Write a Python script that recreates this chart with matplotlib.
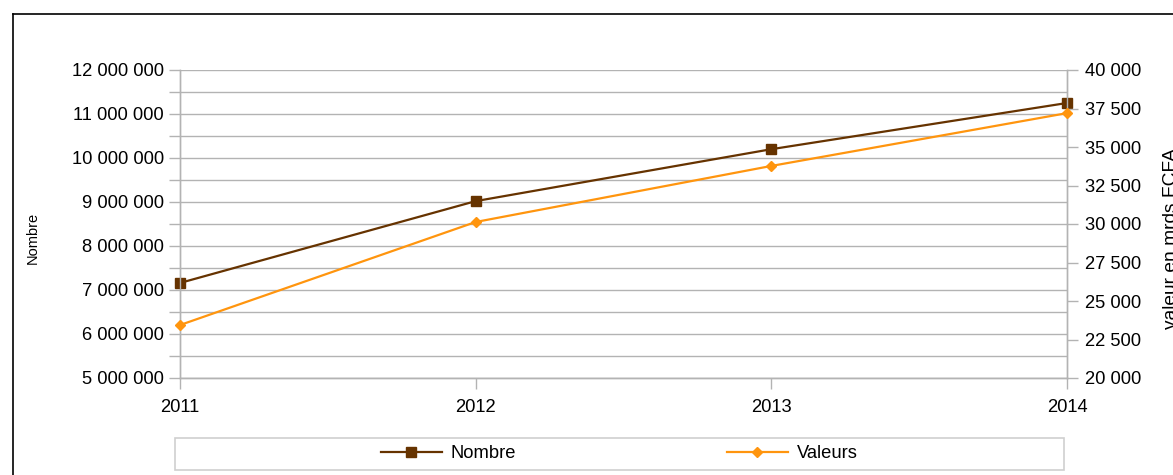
import matplotlib
matplotlib.use("Agg")
import matplotlib.pyplot as plt
from matplotlib.lines import Line2D
from matplotlib.patches import Rectangle
from matplotlib.ticker import FuncFormatter, MultipleLocator

plt.rcParams['font.family'] = ['Liberation Sans', 'DejaVu Sans']

years = [2011, 2012, 2013, 2014]
nombre = [7_160_000, 9_020_000, 10_200_000, 11_250_000]
valeurs = [23_440, 30_130, 33_770, 37_200]
left_label = "Nombre"
right_label = "valeur en mrds FCFA"
series_names = ["Nombre", "Valeurs"]

W, H = 1173, 475
fig = plt.figure(figsize=(W / 100, H / 100), dpi=100)
L, R, T, B = 180, 1067, 70, 378
ax = fig.add_axes([L / W, 1 - B / H, (R - L) / W, (B - T) / H])
ax2 = ax.twinx()

grid_c = '#b3b3b3'
brown = '#663300'
orange = '#ff950e'
fs = 13.2

def spaced(v, pos):
    return f"{int(round(v)):,}".replace(",", " ")

ax.set_xlim(years[0], years[-1])
ax.set_ylim(5_000_000, 12_000_000)
ax.yaxis.set_major_locator(MultipleLocator(1_000_000))
ax.yaxis.set_minor_locator(MultipleLocator(500_000))
ax.yaxis.set_major_formatter(FuncFormatter(spaced))
ax.set_xticks(years)
ax.set_xticklabels([str(y) for y in years])
ax.grid(True, which='both', axis='y', color=grid_c, linewidth=1)
ax.set_axisbelow(True)
ax.tick_params(axis='y', which='both', direction='out', length=8, color=grid_c, width=1,
               labelsize=fs, pad=3.5)
ax.tick_params(axis='x', direction='out', length=8, color=grid_c, width=1, labelsize=fs, pad=7)

ax2.set_ylim(20_000, 40_000)
ax2.yaxis.set_major_locator(MultipleLocator(2_500))
ax2.yaxis.set_major_formatter(FuncFormatter(spaced))
ax2.tick_params(axis='y', direction='out', length=8, color=grid_c, width=1, labelsize=fs, pad=5)

for a in (ax, ax2):
    for s in a.spines.values():
        s.set_color(grid_c)
        s.set_linewidth(1)
    a.spines['top'].set_visible(False)

ax.plot(years, nombre, color=brown, linewidth=1.6, marker='s', markersize=6.5,
        label=series_names[0], clip_on=False, zorder=3)
ax2.plot(years, valeurs, color=orange, linewidth=1.6, marker='D', markersize=5.5,
         label=series_names[1], clip_on=False, zorder=3)

fig.text(33 / W, 1 - 238 / H, left_label, rotation=90, ha='center', va='center', fontsize=10.5)
fig.text(1171 / W, 1 - 239 / H, right_label, rotation=90, ha='center', va='center', fontsize=13.8)

# outer border
fig.add_artist(Line2D([12.5 / W, 1.0], [1 - 14 / H, 1 - 14 / H], transform=fig.transFigure,
                      color='black', linewidth=1.2))
fig.add_artist(Line2D([12.5 / W, 12.5 / W], [1 - 14 / H, 0.0], transform=fig.transFigure,
                      color='black', linewidth=1.2))

# legend box
fig.add_artist(Rectangle((175 / W, 1 - 470 / H), (1064 - 175) / W, 32 / H,
                         transform=fig.transFigure, fill=False, edgecolor='#cfcfcf', linewidth=1.2))
handles = [Line2D([], [], color=brown, linewidth=1.6, marker='s', markersize=6.5),
           Line2D([], [], color=orange, linewidth=1.6, marker='D', markersize=5.5)]
fig.legend(handles, series_names, loc='center', bbox_to_anchor=(619.5 / W, 1 - 454 / H),
           ncol=2, frameon=False, fontsize=fs, handlelength=3.3, handletextpad=0.5,
           columnspacing=11.5, borderpad=0, borderaxespad=0)

fig.savefig('out.png', dpi=100)
